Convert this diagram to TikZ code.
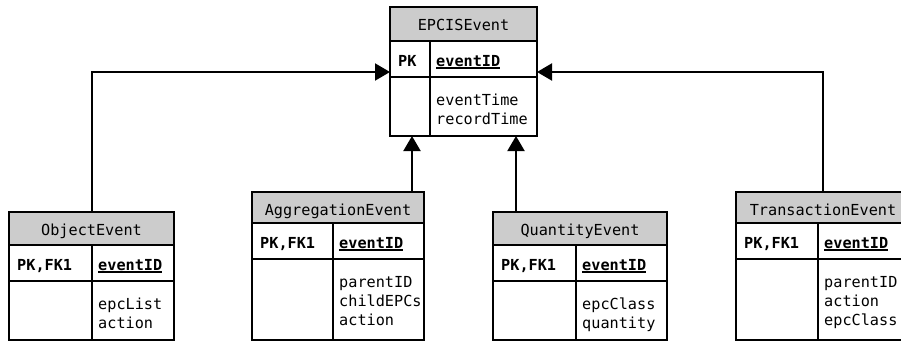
\documentclass[tikz,border=0pt]{standalone}
\usepackage{fontspec}
\usetikzlibrary{arrows.meta}
\newfontfamily\erfont{DejaVu Sans Mono}
\definecolor{hdrgray}{HTML}{CCCCCC}
\newcommand\erul[1]{\setbox0\hbox{#1}\rlap{\rule[-3pt]{\wd0}{1.6pt}}\box0}
\def\ergeo#1,#2,#3,#4,#5,#6,#7\relax{\def\gxa{#1}\def\gxd{#2}\def\gxb{#3}\def\gy{#4}\def\gya{#5}\def\gyb{#6}\def\gyc{#7}}
\newcommand\ertable[6]{%
  \ergeo#2\relax
  \pgfmathsetmacro\erwA{\gxd-\gxa}\pgfmathsetmacro\erwB{\gxb-\gxd}\pgfmathsetmacro\erwT{\gxb-\gxa}%
  \pgfmathsetmacro\erhA{\gya-\gy}\pgfmathsetmacro\erhB{\gyb-\gya}\pgfmathsetmacro\erhC{\gyc-\gyb}%
  \node[hdrcell, minimum width=\erwT pt, minimum height=\erhA pt] (#1) at (\gxa,\gy) {};
  \node[cell, minimum width=\erwA pt, minimum height=\erhB pt] (#1-pk) at (\gxa,\gya) {};
  \node[cell, minimum width=\erwB pt, minimum height=\erhB pt] (#1-key) at (\gxd,\gya) {};
  \node[cell, minimum width=\erwA pt, minimum height=\erhC pt] (#1-blank) at (\gxa,\gyb) {};
  \node[cell, minimum width=\erwB pt, minimum height=\erhC pt] (#1-attr) at (\gxd,\gyb) {};
  \node[txt, anchor=base] (#1-title) at ([yshift=-23pt]#1.north) {#3};
  \node[txt, anchor=base west] (#1-pktext) at ([xshift=8pt,yshift=-25pt]#1-pk.north west) {\textbf{#4}};
  \node[txt, anchor=base west] (#1-keytext) at ([xshift=6pt,yshift=-25pt]#1-key.north west) {\textbf{\erul{#5}}};
  \node[txt, anchor=north west, align=left] (#1-attrtext) at ([xshift=6pt,yshift=-17pt]#1-attr.north west) {#6};
}
\begin{document}
\begin{tikzpicture}[x=1pt,y=-1pt,
  cell/.style={draw, line width=2pt, rectangle, inner sep=0pt, outer sep=0pt, anchor=north west},
  hdrcell/.style={cell, fill=hdrgray},
  txt/.style={inner sep=0pt, font=\erfont\fontsize{15.2}{19}\selectfont},
  inh/.style={line width=2pt, -{Triangle[length=15pt,width=17pt]}}]
\useasboundingbox (0,0) rectangle (901,341);
\ertable{epcis}{390,430,537,7,41,77,136}{EPCISEvent}{PK}{eventID}{eventTime\\recordTime}
\ertable{obj}{9,92,174,212,245,281,340}{ObjectEvent}{PK,FK1}{eventID}{epcList\\action}
\ertable{agg}{252,333,424,192,223,259,340}{AggregationEvent}{PK,FK1}{eventID}{parentID\\childEPCs\\action}
\ertable{qty}{493,576,667,212,245,281,340}{QuantityEvent}{PK,FK1}{eventID}{epcClass\\quantity}
\ertable{trn}{736,818,910,192,223,259,340}{TransactionEvent}{PK,FK1}{eventID}{parentID\\action\\epcClass}
\coordinate (epL) at (390,72);
\coordinate (epR) at (537,72);
\coordinate (epB1) at (412,136);
\coordinate (epB2) at (516,136);
\draw[inh] (obj.north) |- (epL);
\draw[inh] (agg.north -| epB1) -- (epB1);
\draw[inh] (qty.north -| epB2) -- (epB2);
\draw[inh] (trn.north) |- (epR);
\end{tikzpicture}
\end{document}
